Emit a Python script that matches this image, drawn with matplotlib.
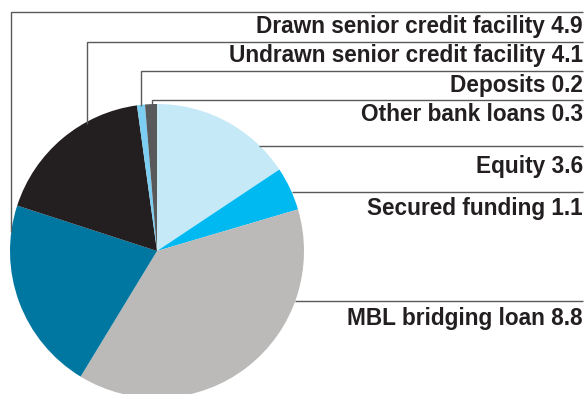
import numpy as np
import matplotlib
matplotlib.use('Agg')
import matplotlib.pyplot as plt

# Funding sources, clockwise from 12 o'clock
labels = ['Equity', 'Secured funding', 'MBL bridging loan',
          'Drawn senior credit facility', 'Undrawn senior credit facility',
          'Deposits', 'Other bank loans']
values = [3.6, 1.1, 8.8, 4.9, 4.1, 0.2, 0.3]
slice_colors = ['#C6E9F8', '#00B9F1', '#BBBAB9', '#0077A1', '#231F20',
                '#7CCFF3', '#58595B']

# pie geometry in pixel units (y grows downwards)
cx, cy, r = 157, 251, 147
txt_x = 583
line_col = '#5A5A5A'
txt_col = '#231F20'

fig = plt.figure(figsize=(5.87, 3.94), dpi=100)
ax = fig.add_axes([0, 0, 1, 1])

ax.pie(values, colors=slice_colors, startangle=270, counterclock=True,
       center=(cx, cy), radius=r, wedgeprops=dict(linewidth=0))

ax.set_xlim(0, 587)
ax.set_ylim(394, 0)
ax.set_aspect('equal')
ax.axis('off')

# labels with a horizontal leader line above each one
# (line y, text baseline, x where the line bends down / None -> stops at pie edge, y end of drop)
leaders = {
    'Drawn senior credit facility':   (12, 33, 10.5, 232),
    'Undrawn senior credit facility': (41.5, 62, 87, 124),
    'Deposits':                       (70.5, 92, 141, 106),
    'Other bank loans':               (100, 121, 151.5, 106),
    'Equity':                         (145.5, 173, None, None),
    'Secured funding':                (192, 215, None, None),
    'MBL bridging loan':              (300.5, 325, None, None),
}

for lab, val in zip(labels, values):
    ly, ty, bx, by = leaders[lab]
    if bx is None:
        x0 = cx + np.sqrt(r**2 - (ly - cy)**2)
        ax.plot([x0, txt_x], [ly, ly], color=line_col, lw=1.0,
                solid_capstyle='butt')
    else:
        ax.plot([bx, bx, txt_x], [by, ly, ly], color=line_col, lw=1.0,
                solid_capstyle='butt', solid_joinstyle='miter')
    ax.text(txt_x, ty, f'{lab} {val}', ha='right', va='baseline',
            fontsize=16.3, fontweight='bold', family='Liberation Sans',
            color=txt_col)

plt.savefig('out.png', dpi=100)
